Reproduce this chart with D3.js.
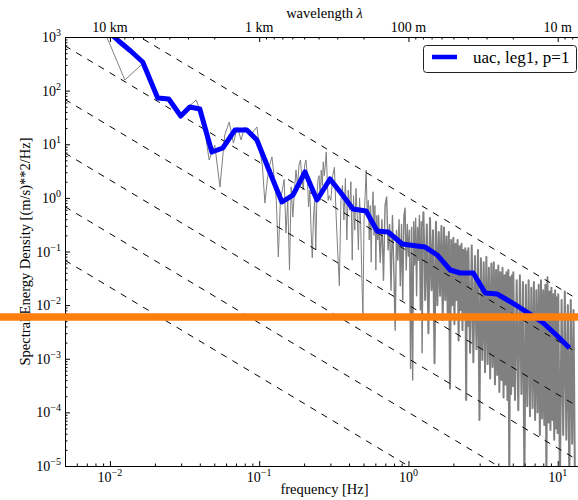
<!DOCTYPE html>
<html>
<head>
<meta charset="utf-8">
<script src="https://cdn.jsdelivr.net/npm/d3@7"></script>
<style>
body { margin: 0; background: #fff; }
text { font-family: "Liberation Serif", "DejaVu Serif", serif; fill: #000; }
</style>
</head>
<body>
<div id="chart"></div>
<script>
// binned spectrum (blue line)
var binFreq = [0.0095, 0.01144, 0.01377, 0.01658, 0.0209, 0.02477, 0.02982, 0.03426, 0.04, 0.04816,
    0.05706, 0.0687, 0.08268, 0.09651, 0.1162, 0.142, 0.1684, 0.2026, 0.2439, 0.2981,
    0.3534, 0.4254, 0.5201, 0.6165, 0.7306, 0.9074, 1.075, 1.294, 1.558, 1.905,
    2.223, 2.718, 3.272, 3.938, 4.966, 6.36, 8.01, 9.8, 11.98];
var binPsd = [1350, 842, 548, 342, 72.9, 69.8, 33.6, 49.5, 45.4, 7.17,
    8.51, 18.4, 18.4, 12.0, 3.31, 0.838, 1.13, 3.04, 0.913, 2.25,
    1.23, 0.62, 0.569, 0.241, 0.231, 0.138, 0.129, 0.121, 0.0861, 0.0452,
    0.0397, 0.0397, 0.0168, 0.0161, 0.011, 0.00713, 0.00464, 0.00277, 0.00158];

// raw spectrum (gray line): fft bins k*df, read in runs of constant bin step
var df = 0.0042;
var rawRunStart = [2, 70, 150, 300, 600, 1200, 2400];
var rawRunStep = [1, 2, 4, 8, 16, 32, 64];
var rawPsd = [
    // k = 2..69
    2300, 158, 330, 73, 67, 32, 50, 67, 31, 5.1, 9.6, 1.6, 15, 26, 10.5, 21, 12, 21, 18, 15,
    18, 21, 7.8, 4.1, 0.8, 2.2, 4.1, 5.8, 2.4, 0.9, 0.079, 0.9, 1.4, 2.2, 0.22, 0.9, 0.045, 1.6, 0.44, 1.4,
    3.3, 1.7, 4.1, 5.1, 2.4, 1.4, 4.1, 5.1, 2.6, 0.68, 1.4, 0.25, 0.076, 0.44, 0.9, 0.107, 1.1, 2.2, 2.6, 0.9,
    3.3, 1.7, 4.7, 2.6, 4.1, 7.2, 2.2, 0.9,
    // k = 70..148
    1.1, 0.9, 2.6, 3.7, 0.47, 0.093, 0.023, 0.9, 1.7, 0.39, 2.3, 0.164, 1.4, 0.59, 2.0, 0.069, 1.1, 0.25, 1.5, 0.47,
    0.107, 1.0, 0.32, 0.032, 0.006, 0.39, 1.1, 3.3, 0.47, 0.9, 0.164, 0.72, 0.063, 0.59, 1.3, 0.2, 0.72, 0.045, 0.47, 0.164,
    // k = 150..298
    0.47, 0.063, 0.39, 0.029, 0.72, 1.04, 0.107, 0.32, 0.019, 0.47, 0.045, 0.0034, 0.25, 0.069, 0.39, 0.023, 0.32, 0.0125, 0.47, 0.64,
    0.045, 0.32, 0.082, 0.25, 6.6e-4, 0.28, 4e-4, 0.36, 0.056, 0.42, 0.015, 0.28, 0.069, 0.47, 0.0081, 0.36, 0.0013, 0.3,
    // k = 300..596
    0.54, 0.0125, 0.32, 0.003, 0.42, 0.019, 0.25, 8.2e-4, 0.36, 0.01, 0.23, 0.015, 0.3, 0.0053, 0.28, 0.0125, 0.19, 0.0066, 0.23, 2.8e-4,
    0.164, 0.01, 0.18, 0.0044, 0.14, 0.0125, 0.164, 0.0022, 0.125, 0.0081, 0.14, 0.0034, 0.107, 0.0057, 0.115, 1.7e-4, 0.1, 0.004,
    // k = 600..1192
    0.115, 0.0013, 0.13, 8.6e-4, 0.082, 0.0015, 0.107, 7.2e-5, 0.075, 9.5e-4, 0.063, 5.6e-4, 0.08, 8e-4, 0.05, 4.3e-4, 0.06, 7e-4, 0.063, 3.3e-4,
    0.045, 5e-4, 0.055, 2.4e-4, 0.041, 4e-4, 0.05, 1.9e-4, 0.036, 3.3e-4, 0.041, 1.7e-4, 0.045, 5e-6, 0.033, 2.2e-4, 0.036, 3e-4,
    // k = 1200..2384
    0.041, 1.7e-4, 0.029, 1.1e-4, 0.036, 2.2e-4, 0.027, 5e-6, 0.024, 1.3e-4, 0.029, 8.5e-5, 0.021, 1.2e-4, 0.027, 7.2e-5, 0.019, 1e-4, 0.024, 3.8e-5,
    0.029, 7.7e-5, 0.019, 5.8e-5, 0.024, 5e-6, 0.033, 6.5e-5, 0.018, 4.7e-5, 0.021, 7.2e-5, 0.016, 3.1e-5, 0.019, 5e-5, 0.014, 4e-5,
    // k = 2400..3104
    0.016, 5e-6, 0.0125, 3.8e-5, 0.018, 3.1e-5, 0.01, 5e-6, 0.0125, 2.6e-5, 0.0081, 5e-6
];

// -5/3 reference lines: coef * f^slope
var refCoef = [1, 0.1, 0.01, 1e-3, 1e-4, 1e-5];
var refSlope = -5 / 3;

// horizontal noise level (orange)
var noiseLevel = 6e-3;

var xTicks = [0.01, 0.1, 1, 10];
var xTickExp = ["\u22122", "\u22121", "0", "1"];
var yTicks = [1e-5, 1e-4, 1e-3, 1e-2, 1e-1, 1, 10, 100, 1000];
var yTickExp = ["\u22125", "\u22124", "\u22123", "\u22122", "\u22121", "0", "1", "2", "3"];

// top axis: wavelength = speed / frequency
var advectSpeed = 100;
var lambdaTicks = [10000, 1000, 100, 10];
var lambdaLabels = ["10 km", "1 km", "100 m", "10 m"];

var legendLabel = "uac, leg1, p=1";

var W = 578, H = 500;
var plot = {left: 65, right: 584, top: 37, bottom: 466};

var x = d3.scaleLog().domain([0.005, 15]).range([plot.left, plot.right]);
var y = d3.scaleLog().domain([1e-5, 1e3]).range([plot.bottom, plot.top]);
var xl = d3.scaleLog()
    .domain([advectSpeed / 0.005, advectSpeed / 15])
    .range([plot.left, plot.right]);

var isMajor = function(v) {
    var l = Math.log10(v);
    return Math.abs(l - Math.round(l)) < 1e-6;
};

// build raw spectrum points from the bin runs
var raw = [];
var r = 0, k = rawRunStart[0];
rawPsd.forEach(function(v) {
    if (r + 1 < rawRunStart.length && k >= rawRunStart[r + 1]) {
        r++;
        k = rawRunStart[r];
    }
    raw.push({f: k * df, v: v, run: r});
    k += rawRunStep[r];
});

var binned = binFreq.map(function(f, i) { return {f: f, v: binPsd[i]}; });

var svg = d3.select("#chart")
    .append("svg")
    .attr("width", W)
    .attr("height", H);

svg.append("defs").append("clipPath")
    .attr("id", "clip")
    .append("rect")
    .attr("x", plot.left)
    .attr("y", plot.top)
    .attr("width", plot.right - plot.left)
    .attr("height", plot.bottom - plot.top);

var line = d3.line()
    .x(function(d) { return x(d.f); })
    .y(function(d) { return y(d.v); });

var data = svg.append("g").attr("clip-path", "url(#clip)");

// raw spectrum, one piece per run; the sparser-sampled high runs get a
// wider stroke so the dense band fills in like the original
rawRunStart.forEach(function(s, ri) {
    var piece = raw.filter(function(d, i) {
        return d.run === ri || (raw[i + 1] && raw[i + 1].run === ri && d.run === ri - 1);
    });
    data.append("path")
        .datum(piece)
        .attr("d", line)
        .style("fill", "none")
        .style("stroke", "#808080")
        .style("stroke-width", ri < 2 ? 1 : (ri === 2 ? 1.4 : 2))
        .style("stroke-linejoin", "round");
});

refCoef.forEach(function(a) {
    var ends = x.domain().map(function(f) { return {f: f, v: a * Math.pow(f, refSlope)}; });
    data.append("path")
        .datum(ends)
        .attr("d", line)
        .style("fill", "none")
        .style("stroke", "#000")
        .style("stroke-width", 1)
        .style("stroke-dasharray", "6.5,6.5");
});

data.append("path")
    .datum(binned)
    .attr("d", line)
    .style("fill", "none")
    .style("stroke", "#0000ff")
    .style("stroke-width", 5)
    .style("stroke-linejoin", "round");

// frame
svg.append("rect")
    .attr("x", plot.left + 0.5)
    .attr("y", plot.top + 0.5)
    .attr("width", plot.right - plot.left)
    .attr("height", plot.bottom - plot.top)
    .style("fill", "none")
    .style("stroke", "#000")
    .style("stroke-width", 1);

// ticks (inward), minor then major
var addTicks = function(axisFn, scale, translate) {
    var all = scale.ticks();
    var minor = all.filter(function(v) { return !isMajor(v); });
    var major = all.filter(isMajor);
    [[minor, 2.5], [major, 5]].forEach(function(t) {
        svg.append("g")
            .attr("transform", translate)
            .call(axisFn(scale).tickValues(t[0]).tickSize(-t[1]).tickFormat(""))
            .call(function(g) { g.select(".domain").remove(); });
    });
};
addTicks(d3.axisBottom, x, "translate(0," + plot.bottom + ")");
addTicks(d3.axisLeft, y, "translate(" + plot.left + ",0)");
addTicks(d3.axisTop, xl, "translate(0," + plot.top + ")");

// bottom tick labels
var xt = svg.selectAll(".xlab")
    .data(xTicks)
    .enter().append("text")
    .attr("class", "xlab")
    .attr("x", function(d) { return x(d); })
    .attr("y", 482)
    .style("text-anchor", "middle")
    .style("font-size", "14px");
xt.append("tspan").text("10");
xt.append("tspan")
    .attr("dy", -6)
    .style("font-size", "10px")
    .text(function(d, i) { return xTickExp[i]; });

// left tick labels
var yt = svg.selectAll(".ylab")
    .data(yTicks)
    .enter().append("text")
    .attr("class", "ylab")
    .attr("x", 61)
    .attr("y", function(d) { return y(d) + 5; })
    .style("text-anchor", "end")
    .style("font-size", "14px");
yt.append("tspan").text("10");
yt.append("tspan")
    .attr("dy", -6)
    .style("font-size", "10px")
    .text(function(d, i) { return yTickExp[i]; });

// top tick labels
svg.selectAll(".tlab")
    .data(lambdaTicks)
    .enter().append("text")
    .attr("class", "tlab")
    .attr("x", function(d) { return xl(d); })
    .attr("y", 32)
    .style("text-anchor", "middle")
    .style("font-size", "14px")
    .text(function(d, i) { return lambdaLabels[i]; });

var midX = (plot.left + plot.right) / 2;

var tl = svg.append("text")
    .attr("x", midX)
    .attr("y", 18)
    .style("text-anchor", "middle")
    .style("font-size", "14.5px");
tl.append("tspan").text("wavelength ");
tl.append("tspan").style("font-style", "italic").text("\u03bb");

svg.append("text")
    .attr("x", midX)
    .attr("y", 494)
    .style("text-anchor", "middle")
    .style("font-size", "14.5px")
    .text("frequency [Hz]");

svg.append("text")
    .attr("transform", "translate(30," + ((plot.top + plot.bottom) / 2) + ") rotate(-90)")
    .style("text-anchor", "middle")
    .style("font-size", "14.5px")
    .text("Spectral Energy Density [(m/s)**2/Hz]");

// legend
var legend = svg.append("g").attr("class", "legend");
legend.append("rect")
    .attr("x", 423.5)
    .attr("y", 45.5)
    .attr("width", 153)
    .attr("height", 27)
    .attr("rx", 3)
    .style("fill", "#fff")
    .style("stroke", "#222")
    .style("stroke-width", 1);
legend.append("line")
    .attr("x1", 432)
    .attr("x2", 457)
    .attr("y1", 57)
    .attr("y2", 57)
    .style("stroke", "#0000ff")
    .style("stroke-width", 4.5);
legend.append("text")
    .attr("x", 473)
    .attr("y", 62.5)
    .style("font-size", "17px")
    .text(legendLabel);

// noise level line across the whole figure
svg.append("line")
    .attr("x1", 0)
    .attr("x2", W)
    .attr("y1", y(noiseLevel))
    .attr("y2", y(noiseLevel))
    .style("stroke", "#ff7f0e")
    .style("stroke-width", 7.5);
</script>
</body>
</html>
